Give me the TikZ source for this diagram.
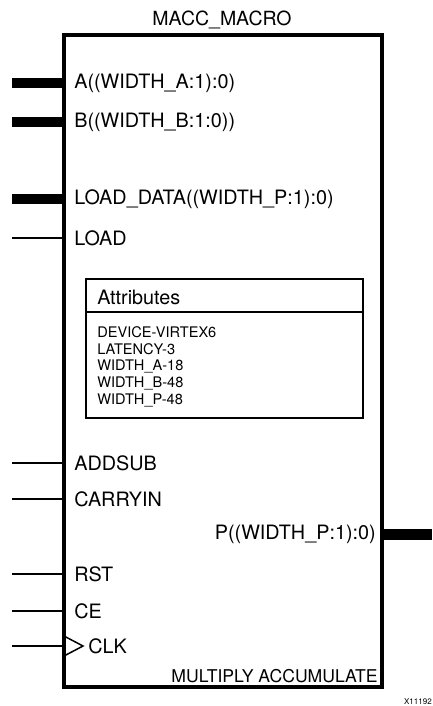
\documentclass[tikz,border=0pt]{standalone}
\usepackage{fontspec}
\setmainfont{TeX Gyre Heros}
\usetikzlibrary{calc}
\usetikzlibrary{positioning}

\begin{document}
\begin{tikzpicture}[x=1pt,y=-1pt,-,semithick]
  \tikzstyle{wire}=[line width=1.5pt]
  \tikzstyle{bus}=[line width=10pt]
  \tikzstyle{pin}=[anchor=west, inner sep=0pt, font=\fontsize{19.8}{22}\selectfont]
  \tikzstyle{item}=[anchor=west, inner sep=0pt, font=\fontsize{14.6}{16}\selectfont]
  \useasboundingbox (0,0) rectangle (432,706);

  % symbol body
  \node[draw, line width=4pt, minimum width=318pt, minimum height=652pt, inner sep=0pt] (macc) at (223,361) {};
  \node[font=\fontsize{19.5}{22}\selectfont, inner sep=0pt] (title) at (222,20) {MACC\_MACRO};

  % left side pins
  \foreach \y/\n/\typ/\txt in {83/a/bus/{A((WIDTH\_A:1):0)}, 122/b/bus/{B((WIDTH\_B:1:0))},
      199/ld/bus/{LOAD\_DATA((WIDTH\_P:1):0)}, 238/load/wire/LOAD, 463/addsub/wire/ADDSUB,
      499/carry/wire/CARRYIN, 574/rst/wire/RST, 611/ce/wire/CE}{
    \coordinate (in\n) at (12,\y);
    \node[pin] (p\n) at (74,\y) {\txt};
    \draw[\typ] (in\n) -- (in\n -| macc.west);
  }

  % clock pin
  \coordinate (inclk) at (12,646);
  \coordinate (tip) at (83,646);
  \node[pin] (pclk) at (88,646) {CLK};
  \draw[wire] (inclk) -- (inclk -| macc.west);
  \draw[wire] (64,636) -- (tip) -- (64,656);

  % output
  \coordinate (outp) at (432,534);
  \node[pin, anchor=east] (pp) at (376,534) {P((WIDTH\_P:1):0)};
  \draw[bus, line width=11pt] (outp -| macc.east) -- (outp);

  % attributes
  \coordinate (hdr) at (0,312);
  \node[draw, line width=1.5pt, minimum width=277pt, minimum height=139pt, inner sep=0pt] (attr) at (224.5,348.5) {};
  \draw[wire] (attr.west |- hdr) -- (attr.east |- hdr);
  \node[pin] (attrhead) at (97,297) {Attributes};
  \foreach \t [count=\i] in {DEVICE-VIRTEX6, LATENCY-3, WIDTH\_A-18, WIDTH\_B-48, WIDTH\_P-48}
    \node[item] (attr\i) at (97,315+17*\i) {\t};

  \node[pin, anchor=east, font=\fontsize{17.6}{20}\selectfont] (func) at (378,676) {MULTIPLY ACCUMULATE};
  \node[anchor=east, inner sep=0pt, font=\fontsize{8}{9}\selectfont] (fig) at (432,702) {X11192};
\end{tikzpicture}
\end{document}
